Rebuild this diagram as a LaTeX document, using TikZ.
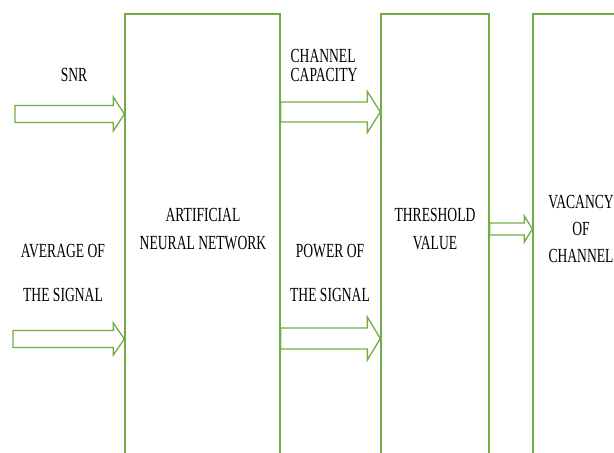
\documentclass[tikz,border=0pt]{standalone}
\usepackage{fontspec}
\setmainfont{Liberation Serif}[FakeStretch=0.68]
\usetikzlibrary{calc}
\definecolor{leafgreen}{RGB}{112,173,71}

\tikzset{
  stage/.style={draw=leafgreen, line width=1.3pt, minimum height=456pt, inner sep=0pt},
  caption/.style={font=\fontsize{20}{#1}\selectfont, align=center, inner sep=0pt},
  caption/.default=28,
  fat/.style={draw=leafgreen, line width=1.3pt, line join=miter},
}
\newcommand{\fatarrow}[5]{%
  \draw[fat] let \p1=(#1), \p2=(#2) in
    (\x1,\y1+#3pt) -- (\x2-#5pt,\y1+#3pt) -- (\x2-#5pt,\y1+#4pt) -- (\x2,\y1)
    -- (\x2-#5pt,\y1-#4pt) -- (\x2-#5pt,\y1-#3pt) -- (\x1,\y1-#3pt) -- cycle;}

\begin{document}
\begin{tikzpicture}[x=1pt, y=-1pt]
	\clip (0,0) rectangle (614,453);
	
	\node [stage, minimum width=155pt] (ann) at (202.5,242) {};
	\node [stage, minimum width=108pt] (thr) at (435,242) {};
	\node [stage, minimum width=127pt] (vac) at (596.5,242) {};
	
	\node [caption] (ann-text) at (203,229) {ARTIFICIAL\\NEURAL NETWORK};
	\node [caption] (thr-text) at (435,229) {THRESHOLD\\VALUE};
	\node [caption=27] (vac-text) at (581,229) {VACANCY\\OF\\CHANNEL};
	
	\node [caption] (snr) at (74,75) {SNR};
	\node [caption=44] (avg) at (63,273) {AVERAGE OF\\THE SIGNAL};
	\node [caption=19, align=left] (cap) at (324,65.5) {CHANNEL\\CAPACITY};
	\node [caption=44] (pow) at (330,273) {POWER OF\\THE SIGNAL};
	
	\coordinate (snr-tail) at (15,114);
	\coordinate (avg-tail) at (13,339);
	\coordinate (cap-lvl) at (280,112);
	\coordinate (pow-lvl) at (280,338.5);
	\coordinate (out-lvl) at (489,229);
	
	\foreach \a/\b/\s/\h/\l in {
		snr-tail/ann.west |- snr-tail/8.5/17/11,
		avg-tail/ann.west |- avg-tail/8.5/16/11,
		ann.east |- cap-lvl/thr.west |- cap-lvl/10/20.5/13,
		ann.east |- pow-lvl/thr.west |- pow-lvl/10.5/21.5/13,
		thr.east |- out-lvl/vac.west |- out-lvl/6/13/8}
	\fatarrow{\a}{\b}{\s}{\h}{\l};
	
\end{tikzpicture}
\end{document}
